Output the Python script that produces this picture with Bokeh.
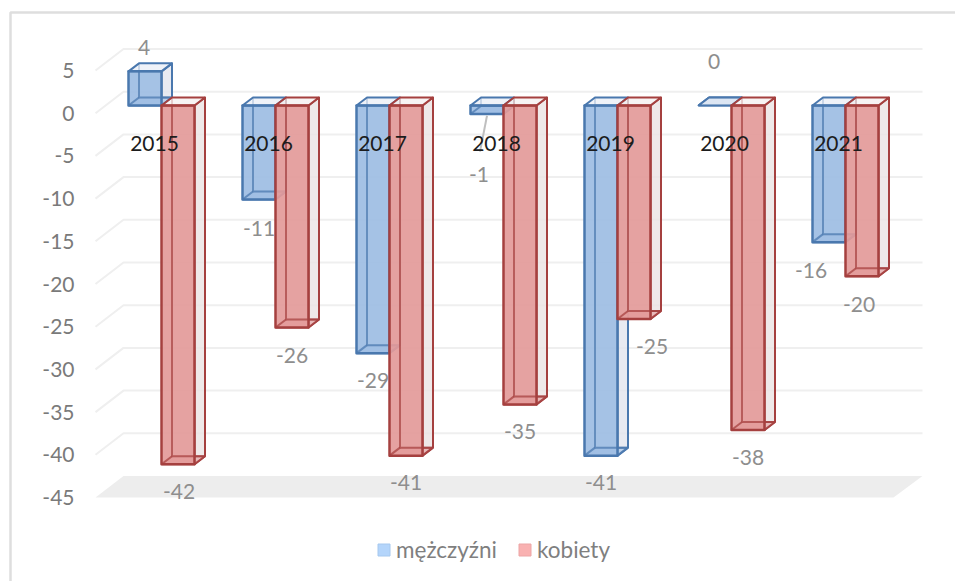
from bokeh.plotting import figure
from bokeh.models import Range1d, LinearAxis, FixedTicker, Legend, LegendItem, ColumnDataSource
from bokeh.embed import file_html
from bokeh.resources import INLINE

categories = ["2015", "2016", "2017", "2018", "2019", "2020", "2021"]
mezczyzni = [4, -11, -29, -1, -41, 0, -16]
kobiety = [-42, -26, -41, -35, -25, -38, -20]
axis_ticks = [5, 0, -5, -10, -15, -20, -25, -30, -35, -40, -45]

# manual label nudges (px from the end of each bar's front face centre)
m_off_x = [-1, 0, 0, -8, 0, -1, -18]
m_off_y = [-24, 29, 27, 60, 27, -44, 28]
k_off_x = [1, 0, 0, 0, 18, 0, -3]
k_off_y = [27, 28, 27, 27, 27, 27, 28]

W, H = 955, 581
PX_PER_UNIT = 8.54         # vertical px per value unit
PX_PER_CAT = 114.0         # horizontal px per category
BAR_W = 33.0 / PX_PER_CAT
DX = 10.5 / PX_PER_CAT     # depth offset
DY = 8.0 / PX_PER_UNIT
ZERO_PAGE = 105.0          # page y of value 0 on the bar plane
BLUE_LEFT = 128.0 / PX_PER_CAT  # blue bar's left edge at category 0

y_top = ZERO_PAGE / PX_PER_UNIT
x_rng = Range1d(0, W / PX_PER_CAT)
y_rng = Range1d(y_top - H / PX_PER_UNIT, y_top)

p = figure(width=W, height=H, output_backend="svg", toolbar_location=None,
           x_range=x_rng, y_range=y_rng, min_border=0, outline_line_color=None,
           background_fill_color="white", border_fill_color="white")
p.xaxis.visible = False
p.yaxis.visible = False
p.xgrid.visible = False
p.ygrid.visible = False

# axis scale: tick labels sit on the front of the wall, below the bar plane
WALL_SHIFT = 7.7 / PX_PER_UNIT
p.extra_y_ranges = {"wall": Range1d(y_rng.start + WALL_SHIFT, y_rng.end + WALL_SHIFT)}
ax = LinearAxis(y_range_name="wall", ticker=FixedTicker(ticks=axis_ticks),
                fixed_location=90 / PX_PER_CAT,
                axis_line_color=None, major_tick_line_color=None, minor_tick_line_color=None,
                major_label_text_font="Lato", major_label_text_font_size="21px",
                major_label_text_color="#7a7a7a", major_label_standoff=10,
                major_label_overrides={t: str(t) for t in axis_ticks})
p.add_layout(ax, "left")

# floor and wall, derived from the tick values
WALL_L = 95 / PX_PER_CAT
WALL_BL = 123 / PX_PER_CAT
WALL_R = 922 / PX_PER_CAT
WALL_FR = 893 / PX_PER_CAT
WALL_DY = 21.5 / PX_PER_UNIT


def wall_y(v):
    return v - WALL_SHIFT


# chart border: left and top edges of the pasted chart
edge_x = 10 / PX_PER_CAT
edge_y = (ZERO_PAGE - 12) / PX_PER_UNIT
p.line([edge_x, edge_x, W / PX_PER_CAT], [y_rng.start, edge_y, edge_y], line_color="#dedede", line_width=2.5)

xs, ys = [], []
for t in axis_ticks[:-1]:
    xs.append([WALL_L, WALL_BL, WALL_R])
    ys.append([wall_y(t), wall_y(t) + WALL_DY, wall_y(t) + WALL_DY])
p.multi_line(xs, ys, line_color="#efefef", line_width=2)
fl = wall_y(axis_ticks[-1])
p.patch([WALL_L, WALL_BL, WALL_R, WALL_FR], [fl, fl + WALL_DY, fl + WALL_DY, fl],
        fill_color="#ededed", line_color=None)


def draw_bars(values, offset, front, edge, side, topc):
    for i, v in enumerate(values):
        x0 = i + BLUE_LEFT + offset
        x1 = x0 + BAR_W
        hi, lo = max(v, 0), min(v, 0)
        p.patch([x1, x1 + DX, x1 + DX, x1], [hi, hi + DY, lo + DY, lo],
                fill_color=side, fill_alpha=0.8, line_color=edge, line_width=2, line_join="round")
        p.patch([x0, x1, x1 + DX, x0 + DX], [lo, lo, lo + DY, lo + DY],
                fill_color=front, fill_alpha=0.6, line_color=edge, line_alpha=0.85, line_width=2)
        if hi != lo:
            p.patch([x0, x1, x1, x0], [lo, lo, hi, hi],
                    fill_color=front, fill_alpha=0.92, line_color=None)
        # inner (back) edges seen through the front face
        p.line([x0 + DX, x0 + DX, x1 + DX], [hi + DY, lo + DY, lo + DY], line_color=edge,
               line_alpha=0.7, line_width=2)
        p.line([x0, x0 + DX], [lo, lo + DY], line_color=edge, line_alpha=0.7, line_width=2)
        p.patch([x0, x1, x1 + DX, x0 + DX], [hi, hi, hi + DY, hi + DY],
                fill_color=topc, fill_alpha=0.7, line_color=edge, line_width=2, line_join="round")
        if hi != lo:
            p.patch([x0, x1, x1, x0], [lo, lo, hi, hi],
                    fill_color=None, line_color=edge, line_width=2.5, line_join="round")


BLUE_E, RED_E = "#4a78ae", "#a5403f"
draw_bars(mezczyzni, 0.0, "#9dbde3", BLUE_E, "#e2e5ee", "#e8edf5")
draw_bars(kobiety, BAR_W, "#e39a99", RED_E, "#ebe3e3", "#f3eeee")

# 2018 leader line, from the label to its bar
i18 = categories.index("2018")
cx18 = i18 + BLUE_LEFT + BAR_W / 2
p.line([cx18, cx18 - 7 / PX_PER_CAT], [mezczyzni[i18] - 0.2, mezczyzni[i18] - 4.4],
       line_color="#bfbfbf", line_width=2)

# category labels
cat_x = [i + 154 / PX_PER_CAT for i in range(len(categories))]
p.text(cat_x, [(ZERO_PAGE - 143) / PX_PER_UNIT] * len(categories), text=categories,
       text_font={"value": "Lato"}, text_font_size="21px", text_color="#1c1c1c",
       text_align="center", text_baseline="middle")


def labels(values, offset, ox, oy):
    src = ColumnDataSource(dict(
        x=[i + BLUE_LEFT + offset + BAR_W / 2 for i in range(len(values))],
        y=[min(v, 0) if v < 0 else v for v in values],
        t=[str(v) for v in values], ox=ox, oy=oy))
    p.text("x", "y", text="t", source=src, x_offset="ox", y_offset="oy",
           text_font={"value": "Lato"}, text_font_size="21px", text_color="#8e8e8e",
           text_align="center", text_baseline="middle")


labels(mezczyzni, 0.0, m_off_x, m_off_y)
labels(kobiety, BAR_W, k_off_x, k_off_y)

# legend
nan = float("nan")
r1 = p.rect([nan], [nan], width=1, height=1, fill_color="#b4d5fb", line_color="#a6c8ee", line_width=1)
r2 = p.rect([nan], [nan], width=1, height=1, fill_color="#f9b1b1", line_color="#eca5a5", line_width=1)
leg = Legend(items=[LegendItem(label="mężczyźni", renderers=[r1]),
                    LegendItem(label="kobiety", renderers=[r2])],
             orientation="horizontal", border_line_color=None, background_fill_alpha=0,
             label_text_font="Lato", label_text_font_size="22.5px", label_text_color="#7f7f7f",
             glyph_width=15, glyph_height=15, spacing=20, label_standoff=5, padding=0, margin=0,
             location=(376, 18))
p.add_layout(leg, "center")

open("out.html", "w").write(file_html(p, INLINE))
